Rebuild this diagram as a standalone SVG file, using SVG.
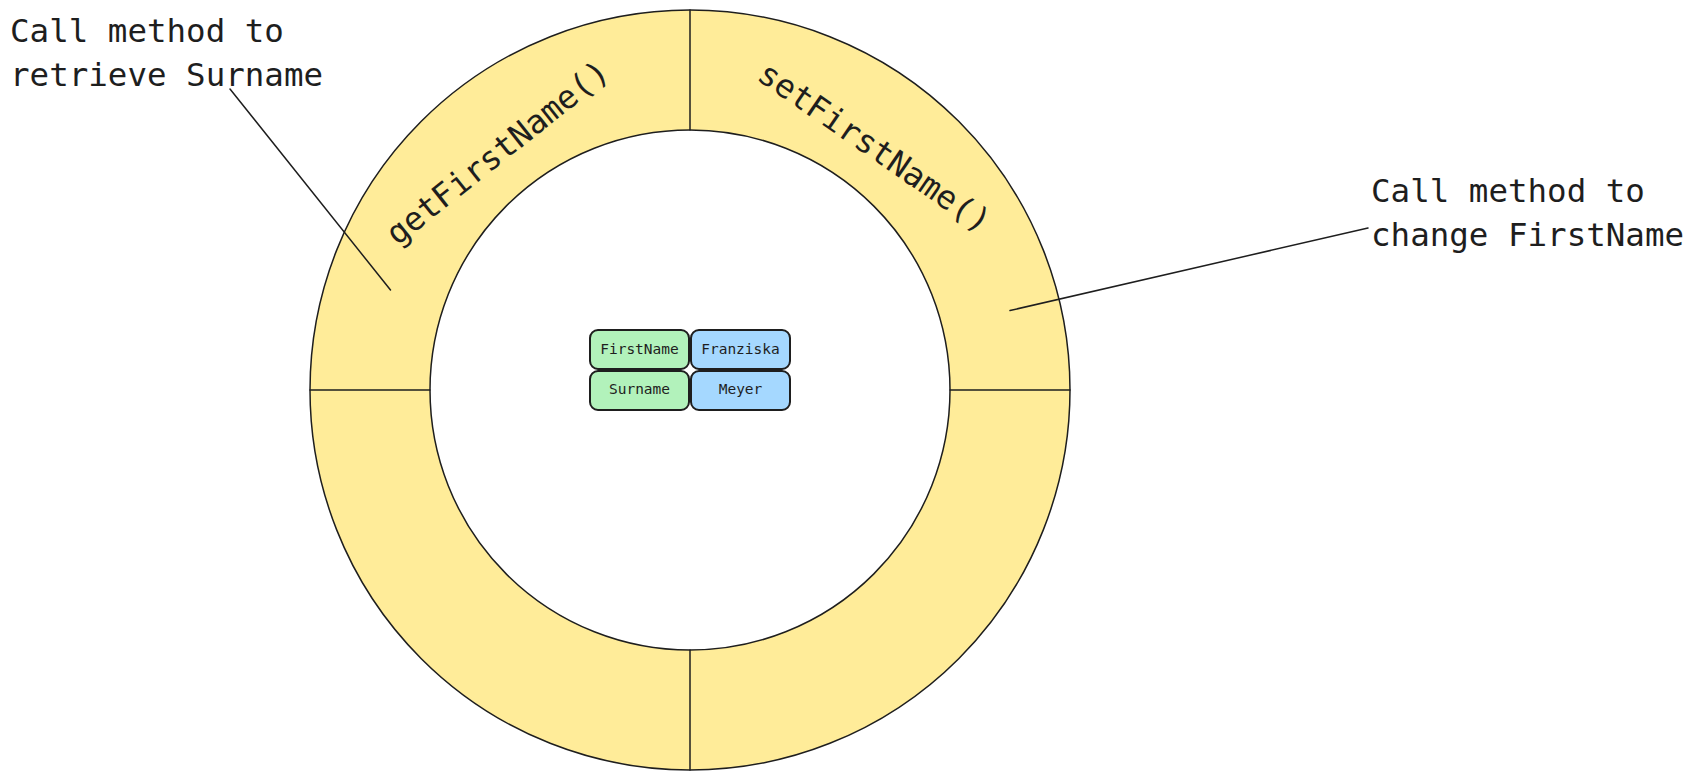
<svg xmlns="http://www.w3.org/2000/svg" width="1696" height="780" viewBox="0 0 1696 780">
<style>
text{font-family:"DejaVu Sans Mono","Liberation Mono",monospace;fill:#1e1e1e}
.big{font-size:32.5px}
.small{font-size:14.5px}
.ln{stroke:#1e1e1e;stroke-width:1.5;fill:none;stroke-linecap:round}
.cellg{fill:#b2f2bb;stroke:#1e1e1e;stroke-width:2}
.cellb{fill:#a5d8ff;stroke:#1e1e1e;stroke-width:2}
</style>
<rect width="1696" height="780" fill="#ffffff"/>
<g id="ring">
<circle cx="690" cy="390" r="380" fill="#ffec99" stroke="#1e1e1e" stroke-width="1.5"/>
<circle cx="690" cy="390" r="260" fill="#ffffff" stroke="#1e1e1e" stroke-width="1.5"/>
<line class="ln" x1="690" y1="10" x2="690" y2="130"/>
<line class="ln" x1="690" y1="650" x2="690" y2="770"/>
<line class="ln" x1="310" y1="390" x2="430" y2="390"/>
<line class="ln" x1="950" y1="390" x2="1070" y2="390"/>
</g>
<g id="get-label"><text class="big" text-anchor="middle" transform="translate(497.5,152.5) rotate(-38.5)" y="11">getFirstName()</text></g>
<g id="set-label"><text class="big" text-anchor="middle" transform="translate(874.5,147.5) rotate(34.5)" y="11">setFirstName()</text></g>
<g id="cell-firstname"><rect class="cellg" x="590" y="330" width="99" height="39" rx="8"/><text class="small" x="639.5" y="354" text-anchor="middle">FirstName</text></g>
<g id="cell-franziska"><rect class="cellb" x="691" y="330" width="99" height="39" rx="8"/><text class="small" x="740.5" y="354" text-anchor="middle">Franziska</text></g>
<g id="cell-surname"><rect class="cellg" x="590" y="371" width="99" height="39" rx="8"/><text class="small" x="639.5" y="394" text-anchor="middle">Surname</text></g>
<g id="cell-meyer"><rect class="cellb" x="691" y="371" width="99" height="39" rx="8"/><text class="small" x="740.5" y="394" text-anchor="middle">Meyer</text></g>
<g id="note-left"><text class="big" x="10" y="42">Call method to</text><text class="big" x="10" y="86">retrieve Surname</text></g>
<g id="note-right"><text class="big" x="1371" y="202">Call method to</text><text class="big" x="1371" y="246">change FirstName</text></g>
<g id="connectors">
<line class="ln" x1="230" y1="89" x2="390.5" y2="290"/>
<line class="ln" x1="1010" y1="310.5" x2="1368" y2="228"/>
</g>
</svg>
